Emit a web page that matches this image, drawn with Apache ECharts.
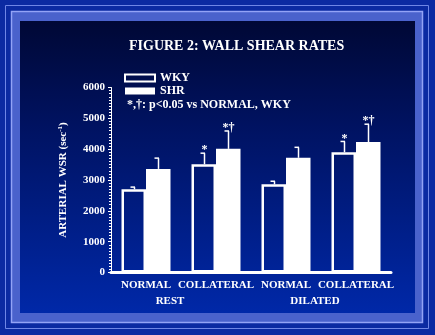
<!DOCTYPE html>
<html><head><meta charset="utf-8">
<script src="https://cdn.jsdelivr.net/npm/echarts@6/dist/echarts.min.js"></script>
<style>html,body{margin:0;padding:0;background:#0b2aa2}#c{width:435px;height:335px}</style>
</head><body><div id="c"></div>
<script>
const categories = ['NORMAL', 'COLLATERAL', 'NORMAL', 'COLLATERAL'];
const groups = ['REST', 'DILATED'];
const wky = [2700, 3510, 2860, 3900];
const wkySD = [70, 360, 100, 350];
const shr = [3360, 4010, 3720, 4230];
const shrSD = [350, 580, 340, 580];
const wkySig = ['', '*', '', '*'];
const shrSig = ['', '*\u2020', '', '*\u2020'];
const yTicks = [0, 1000, 2000, 3000, 4000, 5000, 6000];

const FONT = 'Liberation Serif';
const chart = echarts.init(document.getElementById('c'), null, {renderer: 'canvas'});
const GAP = 0.30;

function errItem(which, sig) {
  return function (params, api) {
    const idx = api.value(0);
    const mean = api.value(1);
    const top = api.value(2);
    const band = api.size([1, 0])[0];
    const bw = band * (1 - GAP) / 2;
    const off = which === 0 ? -bw / 2 : bw / 2;
    const pm = api.coord([idx, mean]);
    const pt = api.coord([idx, top]);
    const cx = Math.round(pm[0] + off) + 0.5;
    const children = [
      {type: 'line', shape: {x1: cx, y1: pm[1], x2: cx, y2: pt[1]}, style: {stroke: '#fff', lineWidth: 1.5}},
      {type: 'line', shape: {x1: cx - 4, y1: pt[1], x2: cx + 0.5, y2: pt[1]}, style: {stroke: '#fff', lineWidth: 1.5}}
    ];
    const s = sig[params.dataIndex];
    if (s) {
      children.push({type: 'text', x: cx, y: pt[1] + 3, style: {text: s, fill: '#fff', font: 'bold 12px "' + FONT + '"', align: 'center', verticalAlign: 'bottom'}});
    }
    return {type: 'group', children: children};
  };
}

const option = {
  backgroundColor: '#0b2aa2',
  animation: false,
  textStyle: {fontFamily: FONT},
  title: {
    text: 'FIGURE 2: WALL SHEAR RATES',
    left: 129, top: 39, padding: 0,
    textStyle: {color: '#fff', fontFamily: FONT, fontWeight: 'bold', fontSize: 14}
  },
  legend: {
    orient: 'vertical', left: 124, top: 72, padding: 0,
    itemWidth: 30, itemHeight: 7, itemGap: 1, icon: 'rect',
    data: ['WKY', 'SHR'],
    textStyle: {color: '#fff', fontFamily: FONT, fontWeight: 'bold', fontSize: 12, lineHeight: 12, padding: [0, 0, 0, 0]}
  },
  graphic: [
    {type: 'rect', silent: true, z: -10, shape: {x: 5.5, y: 5.5, width: 423, height: 323}, style: {fill: 'none', stroke: '#6f86e6', lineWidth: 1}},
    {type: 'rect', silent: true, z: -10, shape: {x: 11.5, y: 11.5, width: 411, height: 311}, style: {fill: '#4a62cc', stroke: '#93a3f6', lineWidth: 1.5}},
    {type: 'rect', silent: true, z: -9, shape: {x: 20, y: 21, width: 395, height: 292},
      style: {fill: new echarts.graphic.LinearGradient(0, 0, 0, 1, [
        {offset: 0, color: '#000835'}, {offset: 0.35, color: '#001260'}, {offset: 1, color: '#0028a8'}])}},
    {type: 'text', left: 127, top: 99, style: {text: '*,\u2020: p<0.05 vs NORMAL, WKY', fill: '#fff', font: 'bold 12px "' + FONT + '"'}},
    {type: 'text', x: 170, y: 301, style: {text: groups[0], fill: '#fff', font: 'bold 11px "' + FONT + '"', align: 'center', verticalAlign: 'middle'}},
    {type: 'text', x: 315, y: 301, style: {text: groups[1], fill: '#fff', font: 'bold 11px "' + FONT + '"', align: 'center', verticalAlign: 'middle'}}
  ],
  grid: {left: 111, right: 44, top: 87.5, bottom: 62.5, containLabel: false},
  xAxis: {
    type: 'category', data: categories,
    axisLine: {lineStyle: {color: '#fff', width: 3}},
    axisTick: {show: false},
    axisLabel: {color: '#fff', fontFamily: FONT, fontWeight: 'bold', fontSize: 11, margin: 7, interval: 0}
  },
  yAxis: {
    type: 'value', min: yTicks[0], max: yTicks[yTicks.length - 1], interval: 1000,
    name: 'ARTERIAL WSR (sec{sup|-1})',
    nameLocation: 'middle', nameRotate: 90, nameGap: 42,
    nameTextStyle: {color: '#fff', fontFamily: FONT, fontWeight: 'bold', fontSize: 11,
      rich: {sup: {fontSize: 7, verticalAlign: 'top', color: '#fff', fontFamily: FONT, fontWeight: 'bold', padding: [0, 0, 5, 0]}}},
    axisLine: {show: true, lineStyle: {color: '#fff', width: 1}},
    axisTick: {show: true, length: 3, lineStyle: {color: '#fff'}},
    minorTick: {show: true, splitNumber: 10, length: 2, lineStyle: {color: '#fff'}},
    splitLine: {show: false},
    axisLabel: {color: '#fff', fontFamily: FONT, fontWeight: 'bold', fontSize: 11, margin: 6,
      formatter: v => String(v)}
  },
  series: [
    {name: 'WKY', type: 'bar', data: wky, barGap: '0%', barCategoryGap: '30%',
      itemStyle: {color: 'rgba(0,0,0,0)', borderColor: '#fff', borderWidth: 2.5}},
    {name: 'SHR', type: 'bar', data: shr, barGap: '0%', barCategoryGap: '30%',
      itemStyle: {color: '#fff', borderColor: '#fff', borderWidth: 0}},
    {type: 'custom', renderItem: errItem(0, wkySig), z: 5,
      data: wky.map((v, i) => [i, v, v + wkySD[i]])},
    {type: 'custom', renderItem: errItem(1, shrSig), z: 5,
      data: shr.map((v, i) => [i, v, v + shrSD[i]])}
  ]
};
chart.setOption(option);
</script></body></html>
